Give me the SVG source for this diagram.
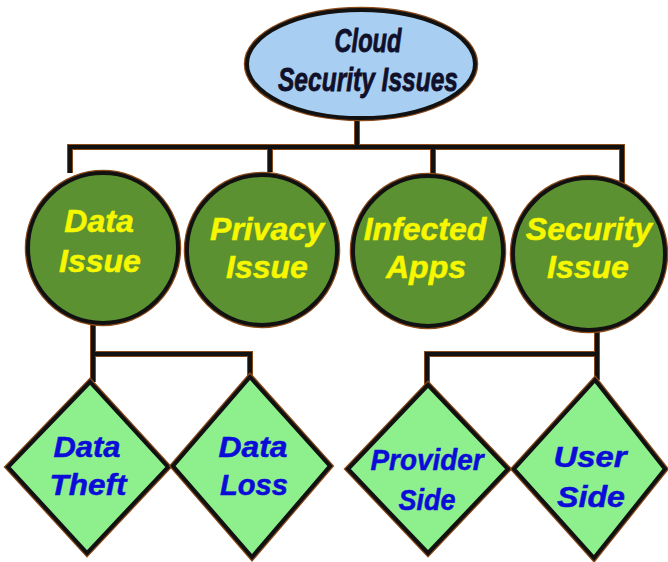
<svg xmlns="http://www.w3.org/2000/svg" width="668" height="562" viewBox="0 0 668 562">
<style>
.halo{fill:none;stroke:#8a4a1a;stroke-width:6;stroke-linejoin:miter}
.edge{fill:none;stroke:#111;stroke-width:4;stroke-linejoin:miter}
.root{fill:#a8cff2}
.circ{fill:#5b9131}
.dia{fill:#8ef08c}
.ol{stroke:#111;stroke-width:4}
.ohalo{fill:none;stroke:#8a4a1a;stroke-width:6.5}
text{font-family:"Liberation Sans",Arial,sans-serif;font-weight:bold;font-style:italic;text-anchor:middle}
.t0{fill:#10102a;stroke:#10102a;stroke-width:0.8;font-size:33px}
.t1{fill:#f7f700;stroke:#f7f700;stroke-width:0.5;font-size:32px}
.t2{fill:#0c0cd8;stroke:#0c0cd8;stroke-width:0.5;font-size:29px}
</style>
<rect width="668" height="562" fill="#fff"/>
<g id="connectors">
<path class="halo" d="M357 118V147M70 173V147H622V183M270 147V172M433 147V177M93 322V354H250V377M93 354V382M597 330V354H427V385M597 354V380"/>
<path class="edge" d="M357 118V147M70 173V147H622V183M270 147V172M433 147V177M93 322V354H250V377M93 354V382M597 330V354H427V385M597 354V380"/>
</g>
<g id="root">
<ellipse class="ohalo" cx="361" cy="64" rx="114" ry="54"/>
<ellipse class="root ol" cx="361" cy="64" rx="114" ry="54"/>
<text class="t0" x="368" y="52" textLength="67" lengthAdjust="spacingAndGlyphs">Cloud</text>
<text class="t0" x="368" y="91" textLength="180" lengthAdjust="spacingAndGlyphs">Security Issues</text>
</g>
<g id="data-issue">
<circle class="ohalo" cx="103" cy="248" r="75"/>
<circle class="circ ol" cx="103" cy="248" r="75"/>
<text class="t1" x="99" y="232">Data</text>
<text class="t1" x="100" y="272">Issue</text>
</g>
<g id="privacy-issue">
<circle class="ohalo" cx="262" cy="250" r="75"/>
<circle class="circ ol" cx="262" cy="250" r="75"/>
<text class="t1" x="267" y="240">Privacy</text>
<text class="t1" x="267" y="278">Issue</text>
</g>
<g id="infected-apps">
<circle class="ohalo" cx="428" cy="251" r="75"/>
<circle class="circ ol" cx="428" cy="251" r="75"/>
<text class="t1" x="425" y="240">Infected</text>
<text class="t1" x="426" y="278">Apps</text>
</g>
<g id="security-issue">
<circle class="ohalo" cx="589" cy="254" r="76"/>
<circle class="circ ol" cx="589" cy="254" r="76"/>
<text class="t1" x="589" y="240">Security</text>
<text class="t1" x="588" y="278">Issue</text>
</g>
<g id="data-theft">
<polygon class="ohalo" points="90,382 168,467 87,553 8,467"/>
<polygon class="dia ol" points="90,382 168,467 87,553 8,467"/>
<text class="t2" x="87" y="457" textLength="67" lengthAdjust="spacingAndGlyphs">Data</text>
<text class="t2" x="88" y="495" textLength="77" lengthAdjust="spacingAndGlyphs">Theft</text>
</g>
<g id="data-loss">
<polygon class="ohalo" points="250,377 330,466 252,557 173,466"/>
<polygon class="dia ol" points="250,377 330,466 252,557 173,466"/>
<text class="t2" x="253" y="457" textLength="69" lengthAdjust="spacingAndGlyphs">Data</text>
<text class="t2" x="254" y="495" textLength="68" lengthAdjust="spacingAndGlyphs">Loss</text>
</g>
<g id="provider-side">
<polygon class="ohalo" points="428,385 508,469 428,553 348,469"/>
<polygon class="dia ol" points="428,385 508,469 428,553 348,469"/>
<text class="t2" x="427" y="470" textLength="113" lengthAdjust="spacingAndGlyphs">Provider</text>
<text class="t2" x="427" y="510" textLength="57" lengthAdjust="spacingAndGlyphs">Side</text>
</g>
<g id="user-side">
<polygon class="ohalo" points="595,380 665,469 594,558 514,469"/>
<polygon class="dia ol" points="595,380 665,469 594,558 514,469"/>
<text class="t2" x="590" y="467" textLength="73" lengthAdjust="spacingAndGlyphs">User</text>
<text class="t2" x="591" y="507" textLength="68" lengthAdjust="spacingAndGlyphs">Side</text>
</g>
</svg>
